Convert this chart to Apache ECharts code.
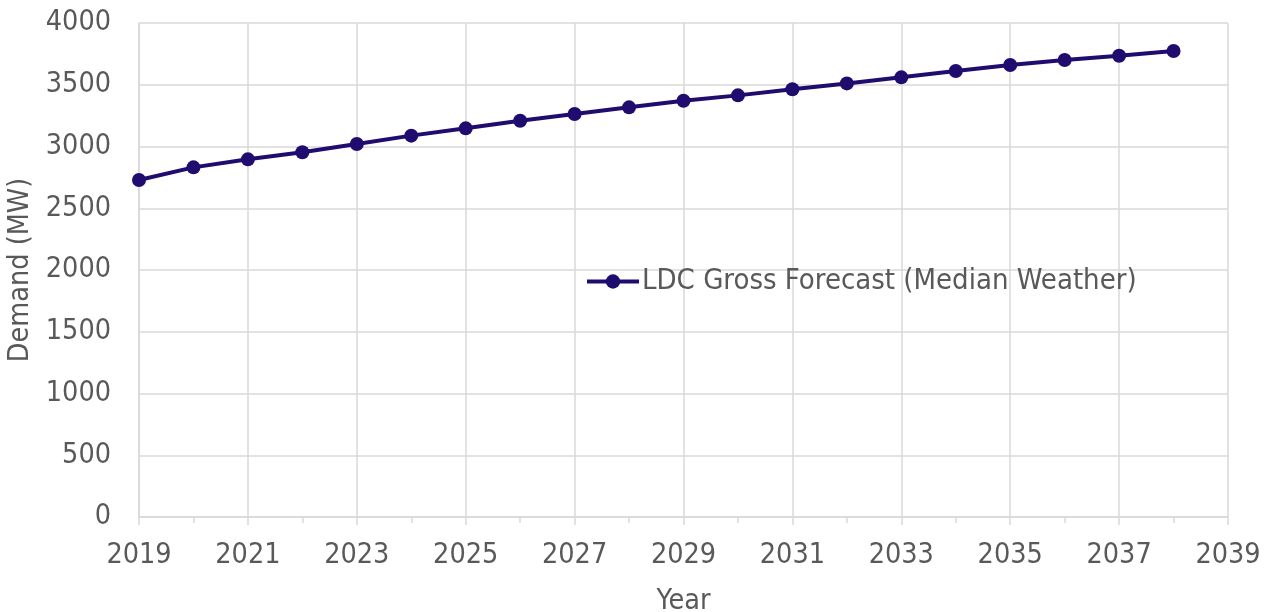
<!DOCTYPE html>
<html><head><meta charset="utf-8">
<script src="https://cdn.jsdelivr.net/npm/echarts@6/dist/echarts.min.js"></script>
<style>html,body{margin:0;padding:0;background:#fff}#c{width:1275px;height:612px}</style>
</head><body><div id="c"></div>
<script>
const years = [2019,2020,2021,2022,2023,2024,2025,2026,2027,2028,2029,2030,2031,2032,2033,2034,2035,2036,2037,2038];
const demand = [2729,2831,2896,2953,3020,3088,3147,3209,3263,3317,3371,3414,3463,3511,3560,3611,3660,3700,3735,3773];
const seriesName = 'LDC Gross Forecast (Median Weather)';
const xAxisName = 'Year';
const yAxisName = 'Demand (MW)';

const FONT = '"DejaVu Sans Condensed", "DejaVu Sans", sans-serif';
const TXT = '#595959';
const GRID = '#d9d9d9';
const LINE = '#1f0c6e';

const chart = echarts.init(document.getElementById('c'), null, {renderer:'canvas'});
chart.setOption({
  animation:false,
  backgroundColor:'#fff',
  grid:{left:139, right:47, top:23, bottom:95, containLabel:false, outerBoundsMode:'none'},
  legend:{
    data:[seriesName], left:580, top:262, itemWidth:52, itemHeight:18, itemGap:0,
    lineStyle:{width:4},
    textStyle:{fontFamily:FONT, fontSize:29, color:TXT, padding:[0,0,0,-2]}
  },
  xAxis:{
    type:'value', min:2019, max:2039, interval:2,
    name:xAxisName, nameLocation:'middle', nameGap:70,
    nameTextStyle:{fontFamily:FONT, fontSize:28.5, color:TXT},
    axisLine:{show:true, lineStyle:{color:GRID, width:1.5}},
    axisTick:{show:true, length:8, lineStyle:{color:GRID, width:1.5}},
    minorTick:{show:true, splitNumber:2, length:6, lineStyle:{color:GRID, width:1.5}},
    axisLabel:{fontFamily:FONT, fontSize:28.5, color:TXT, margin:24, formatter:v=>String(v)},
    splitLine:{show:true, lineStyle:{color:GRID, width:1.5}}
  },
  yAxis:{
    type:'value', min:0, max:4000, interval:500,
    name:yAxisName, nameLocation:'middle', nameGap:97, nameRotate:90,
    nameTextStyle:{fontFamily:FONT, fontSize:28.5, color:TXT},
    axisLine:{show:true, lineStyle:{color:GRID, width:1.5}},
    axisTick:{show:false},
    axisLabel:{fontFamily:FONT, fontSize:28.5, color:TXT, margin:28, formatter:v=>String(v)},
    splitLine:{show:true, lineStyle:{color:GRID, width:1.5}}
  },
  series:[{
    name:seriesName, type:'line',
    data: years.map((y,i)=>[y, demand[i]]),
    symbol:'circle', symbolSize:14,
    lineStyle:{color:LINE, width:4},
    itemStyle:{color:LINE}
  }]
});
</script></body></html>
